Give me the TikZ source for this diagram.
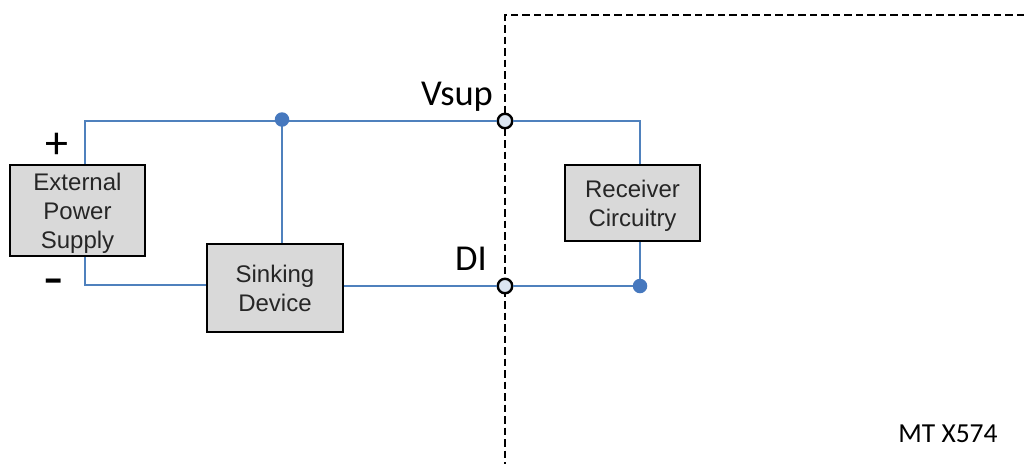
\documentclass[tikz,border=0pt]{standalone}
\usepackage{fontspec}
\setmainfont{Liberation Sans}
\newfontfamily\lblfont{Carlito}
\definecolor{wireblue}{RGB}{79,129,189}
\definecolor{dotblue}{RGB}{70,120,190}
\definecolor{boxgray}{RGB}{217,217,217}
\definecolor{portfill}{RGB}{220,230,242}
\newcommand{\padtop}{\rule{0pt}{23pt}}
\tikzset{
	blockbox/.style={draw=black,line width=2.4pt,fill=boxgray,align=center,inner sep=0pt,
		font=\fontsize{24}{29}\selectfont,text=black!85},
	wire/.style={draw=wireblue,line width=2.2pt},
	bound/.style={draw=black,line width=2.3pt,dash pattern=on 7.5pt off 4pt},
	dotnode/.style={circle,fill=dotblue,inner sep=0pt,minimum size=14.5pt},
	portnode/.style={circle,draw=black,line width=2.4pt,fill=portfill,inner sep=0pt,minimum size=14.5pt},
	lbl/.style={font=\lblfont\fontsize{36.5}{36.5}\selectfont,inner sep=0pt}
}
\begin{document}
\begin{tikzpicture}[x=1pt,y=-1pt]
	\useasboundingbox (0,0) rectangle (1024,464);
	% boundary of the receiving side
	\coordinate (btop) at (505,15);
	\coordinate (bright) at (1024,15);
	\coordinate (bbot) at (505,464);
	\draw[bound] (bright) -- (btop) -- (bbot);
	% blocks
	\node[blockbox,minimum width=135pt,minimum height=91pt] (supply) at (77.5,210.5) {\padtop External\\Power\\Supply};
	\node[blockbox,minimum width=136pt,minimum height=88pt] (sink) at (275,288) {\rule{0pt}{19pt}Sinking\\Device};
	\node[blockbox,minimum width=135pt,minimum height=76pt] (recv) at (632.5,203) {\padtop Receiver\\Circuitry};
	% junctions and corners
	\coordinate (tl) at (85,121);
	\coordinate (bl) at (85,285);
	\coordinate (tr) at (640,121);
	\node[portnode] (vsup) at (505,121) {};
	\node[portnode] (di) at (505,286) {};
	% wires
	\draw[wire] (supply.north -| tl) -- (tl) -- (vsup.west);
	\draw[wire] (vsup.east) -- (tr) -- (recv.north -| tr);
	\coordinate (topj) at (282,121);
	\draw[wire] (topj) -- (sink.north -| topj);
	\draw[wire] (supply.south -| bl) -- (bl) -- (sink.west |- bl);
	\draw[wire] (sink.east |- di) -- (di.west);
	\coordinate (botj) at (640,286);
	\draw[wire] (di.east) -- (botj);
	\draw[wire] (recv.south -| botj) -- (botj);
	\node[dotnode] (topdot) at (282,119.5) {};
	\node[dotnode] (botdot) at (640,286) {};
	% labels
	\node[lbl] (vlabel) at (457,97) {Vsup};
	\node[lbl] (dlabel) at (471,259) {DI};
	\node[font=\lblfont\fontsize{46}{46}\selectfont,inner sep=0pt] (plus) at (57,146) {+};
	\node[font=\lblfont\bfseries\fontsize{40}{40}\selectfont,inner sep=0pt,xscale=1.5] (minus) at (54,286) {-};
	\node[font=\lblfont\fontsize{27.5}{27.5}\selectfont,inner sep=0pt] (tag) at (948,434) {MT X574};
\end{tikzpicture}
\end{document}
